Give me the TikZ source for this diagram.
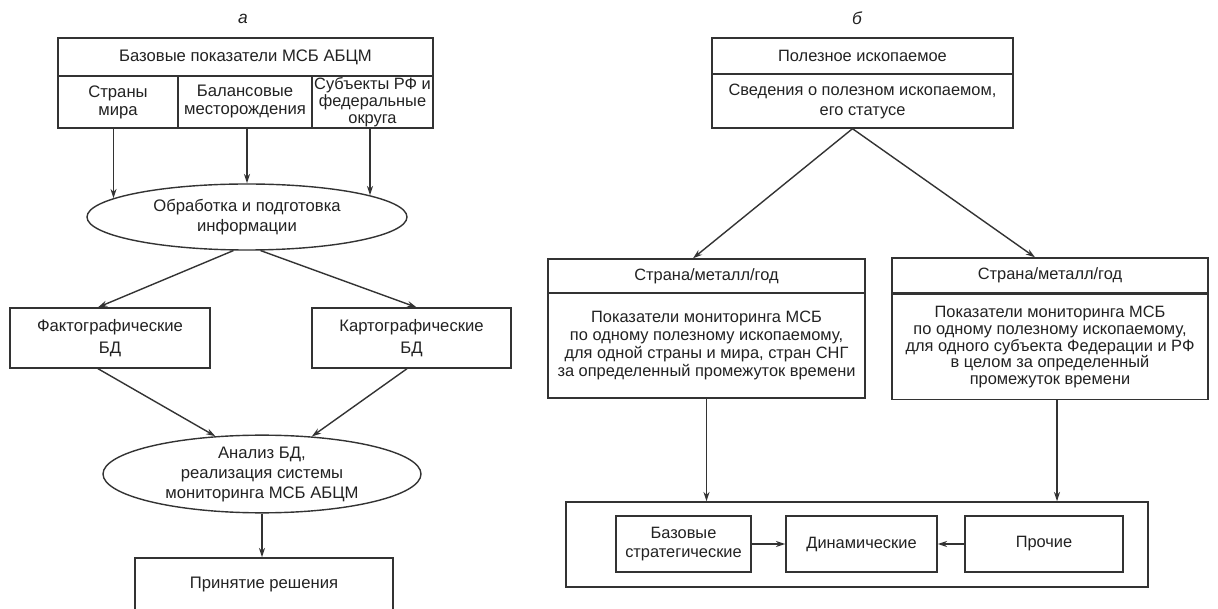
\documentclass[tikz,border=0pt]{standalone}
\usepackage{fontspec}
\setmainfont{Liberation Sans}
\usetikzlibrary{shapes.geometric,arrows.meta,calc}
\definecolor{linec}{HTML}{333333}
\definecolor{txt}{HTML}{222222}
\newcommand\fsA{\fontsize{12.5pt}{13.5pt}\selectfont}
\newcommand\fsB{\fontsize{12.3pt}{13.7pt}\selectfont}
\begin{document}
\begin{tikzpicture}[x=0.75pt,y=-0.75pt,
  box/.style={draw=linec, line width=1.05pt, inner sep=0pt, align=center, text=txt, font=\fsA},
  bbox/.style={box, font=\fsB},
  ell/.style={box, ellipse},
  arr/.style={draw=linec, line width=1.05pt, -{Stealth[length=7pt,width=4.5pt]}},
  lbl/.style={inner sep=0pt, text=txt, font=\fontsize{13pt}{14pt}\selectfont\itshape}]
\useasboundingbox (0,0) rectangle (1218,609);
\fill[white] (0,0) rectangle (1218,609);

% ---------- part a ----------
\node[lbl] (la) at (243,19) {а};
\node[box, minimum width=281.25pt, minimum height=28.5pt] (bhead) at (245.5,57) {Базовые показатели МСБ АБЦМ};
\node[box, minimum width=90pt, minimum height=39pt] (col1) at (118,102) {Страны\\мира};
\node[box, minimum width=100.5pt, minimum height=39pt] (col2) at (245,102) {Балансовые\\месторождения};
\node[box, minimum width=90.75pt, minimum height=39pt, font=\fontsize{12.3pt}{12.6pt}\selectfont] (col3) at (372.5,102) {Субъекты РФ и\\федеральные\\округа};

\node[ell, minimum width=240pt, minimum height=49.5pt, font=\fontsize{12.5pt}{15.5pt}\selectfont] (ell1) at (247,217) {Обработка и подготовка\\информации};

\draw[arr] (ell1.172 |- col1.south) -- (ell1.172);
\draw[arr] (col2.south -| ell1.north) -- (ell1.north);
\draw[arr] (ell1.10.5 |- col3.south) -- (ell1.10.5);

\node[box, minimum width=150pt, minimum height=45pt, font=\fontsize{12.5pt}{16pt}\selectfont] (fakt) at (110,338) {Фактографические\\БД};
\node[box, minimum width=149.25pt, minimum height=45pt, font=\fontsize{12.5pt}{16pt}\selectfont] (karto) at (411.5,338) {Картографические\\БД};

\draw[arr] (ell1.248) -- ($(fakt.north)+(-12,0)$);
\draw[arr] (ell1.292) -- ($(karto.north)+(5,0)$);

\node[ell, minimum width=238.5pt, minimum height=51pt, font=\fontsize{12.5pt}{15pt}\selectfont] (ell2) at (262,474) {Анализ БД,\\реализация системы\\мониторинга МСБ АБЦМ};

\draw[arr] ($(fakt.south)+(-12,0)$) -- (ell2.141.5);
\draw[arr] ($(karto.south)+(-4.5,0)$) -- (ell2.37);

\node[box, minimum width=193.5pt, minimum height=39pt] (dec) at (264,584) {Принятие решения};
\draw[arr] (ell2.south) -- (ell2.south |- dec.north);

% ---------- part b ----------
\node[lbl] (lb) at (857,18) {б};
\node[bbox, minimum width=225.75pt, minimum height=27pt] (rhead) at (862.5,56) {Полезное ископаемое};
\node[bbox, minimum width=225.75pt, minimum height=40.5pt, font=\fontsize{12.3pt}{15pt}\selectfont] (rbody) at (862.5,101) {Сведения о полезном ископаемом,\\его статусе};

\node[bbox, minimum width=237.75pt, minimum height=25.5pt] (lhd) at (706.5,276) {Страна/металл/год};
\node[bbox, minimum width=237.75pt, minimum height=78.75pt] (lbd) at (706.5,345.5) {Показатели мониторинга МСБ\\по одному полезному ископаемому,\\для одной страны и мира, стран СНГ\\за определенный промежуток времени};

\node[bbox, minimum width=237pt, minimum height=26.25pt] (rhd) at (1050,275.5) {Страна/металл/год};
\node[bbox, minimum width=237pt, minimum height=78.75pt, font=\fontsize{12.3pt}{12.6pt}\selectfont] (rbd) at (1050,347) {Показатели мониторинга МСБ\\по одному полезному ископаемому,\\для одного субъекта Федерации и РФ\\в целом за определенный\\промежуток времени};

\coordinate (apex) at ($(rbody.south)+(-10,0)$);
\draw[arr] (apex) -- ($(lhd.north)+(-13.5,0)$);
\draw[arr] (apex) -- ($(rhd.north)+(-15,0)$);

\node[bbox, minimum width=436.5pt, minimum height=63.75pt] (outer) at (857,544.5) {};
\node[bbox, minimum width=101.25pt, minimum height=42pt] (b1) at (683.5,544) {Базовые\\стратегические};
\node[bbox, minimum width=113.25pt, minimum height=42pt] (b2) at (861.5,544) {Динамические};
\node[bbox, minimum width=118.5pt, minimum height=42pt] (b3) at (1044,544) {Прочие};

\draw[arr] (lbd.south) -- (lbd.south |- outer.north);
\draw[arr] ($(rbd.south)+(7,0)$) -- ($(rbd.south |- outer.north)+(7,0)$);
\draw[arr] (b1) -- (b2);
\draw[arr] (b3) -- (b2);
\end{tikzpicture}
\end{document}
